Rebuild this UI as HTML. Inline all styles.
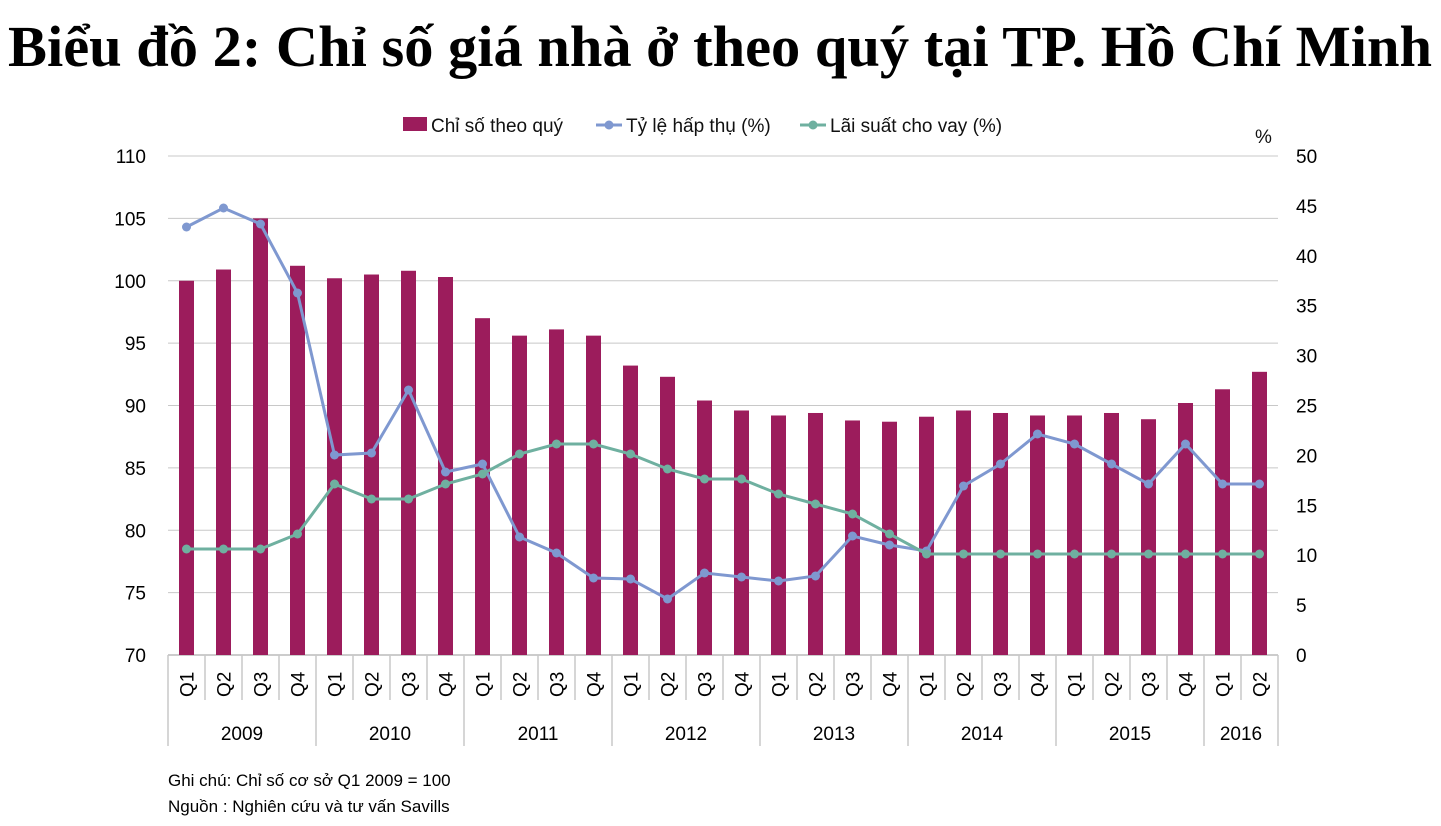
<!DOCTYPE html>
<html><head><meta charset="utf-8"><style>
body{margin:0;background:#fff;width:1441px;height:826px;overflow:hidden}
svg{display:block}
</style></head><body>
<svg id="s" width="1441" height="826" xmlns="http://www.w3.org/2000/svg" font-family="'Liberation Sans', sans-serif">
<text x="720" y="66" text-anchor="middle" font-family="'Liberation Serif', serif" font-weight="bold" font-size="58" textLength="1424" lengthAdjust="spacingAndGlyphs">Biểu đồ 2: Chỉ số giá nhà ở theo quý tại TP. Hồ Chí Minh</text>
<g font-size="19" fill="#111">
<rect x="403" y="117" width="24" height="14" fill="#9c1c5c"/>
<text x="431" y="132">Chỉ số theo quý</text>
<line x1="596" y1="125" x2="622" y2="125" stroke="#7f98d0" stroke-width="3"/><circle cx="609" cy="125" r="4.5" fill="#7f98d0"/>
<text x="626" y="132">Tỷ lệ hấp thụ (%)</text>
<line x1="800" y1="125" x2="826" y2="125" stroke="#6fb0a0" stroke-width="3"/><circle cx="813" cy="125" r="4.5" fill="#6fb0a0"/>
<text x="830" y="132">Lãi suất cho vay (%)</text>
<text x="1255" y="143">%</text>
</g>
<g id="g"></g>
<text x="168" y="786" font-size="17">Ghi chú: Chỉ số cơ sở Q1 2009 = 100</text>
<text x="168" y="812" font-size="17">Nguồn : Nghiên cứu và tư vấn Savills</text>
</svg>
<script>
(function(){
var g=document.getElementById('g'),h='';
var L=168,R=1278,T=156,B=655,W=37;
for(var i=0;i<=8;i++){var y=T+i*(B-T)/8;
 h+='<line x1="'+L+'" y1="'+y+'" x2="'+R+'" y2="'+y+'" stroke="'+(i==8?'#999':'#c8c8c8')+'" stroke-width="1"/>';
 h+='<text x="146" y="'+(y+7)+'" text-anchor="end" font-size="19">'+(110-5*i)+'</text>';}
for(var i=0;i<=10;i++){var y=T+i*(B-T)/10;h+='<text x="1296" y="'+(y+7)+'" font-size="19">'+(50-5*i)+'</text>';}
var bars=[100,100.9,105,101.2,100.2,100.5,100.8,100.3,97,95.6,96.1,95.6,93.2,92.3,90.4,89.6,89.2,89.4,88.8,88.7,89.1,89.6,89.4,89.2,89.2,89.4,88.9,90.2,91.3,92.7];
var ab=[227,208,224,293,455,453,390,472,464,537,553,578,579,599,573,577,581,576,536,545,551,486,464,434,444,464,484,444,484,484];
var ir=[549,549,549,534,484,499,499,484,474,454,444,444,454,469,479,479,494,504,514,534,554,554,554,554,554,554,554,554,554,554];
var q=['Q1','Q2','Q3','Q4'],yrs=['2009','2010','2011','2012','2013','2014','2015','2016'];
for(var i=0;i<30;i++){var cx=L+W*i+W/2,bt=B-(bars[i]-70)*(B-T)/40;
 h+='<rect x="'+(cx-7.5)+'" y="'+bt+'" width="15" height="'+(B-bt)+'" fill="#9c1c5c"/>';
 h+='<text transform="translate('+(cx+7)+',697) rotate(-90)" font-size="19">'+q[i%4]+'</text>';}
for(var i=0;i<=30;i++){var x=L+W*i,lg=(i%4==0)||i==30;
 h+='<line x1="'+x+'" y1="'+B+'" x2="'+x+'" y2="'+(lg?746:700)+'" stroke="#c8c8c8" stroke-width="1.5"/>';}
for(var k=0;k<8;k++){var cx=k<7?L+W*(4*k+2):L+W*29;h+='<text x="'+cx+'" y="740" text-anchor="middle" font-size="19">'+yrs[k]+'</text>';}
function line(a,c){var p=a.map(function(y,i){return (L+W*i+W/2)+','+y}).join(' ');
 var s='<polyline points="'+p+'" fill="none" stroke="'+c+'" stroke-width="3"/>';
 a.forEach(function(y,i){s+='<circle cx="'+(L+W*i+W/2)+'" cy="'+y+'" r="4.5" fill="'+c+'"/>'});return s;}
h+=line(ab,'#7f98d0');h+=line(ir,'#6fb0a0');
g.innerHTML=h;
})();
</script>
</body></html>
